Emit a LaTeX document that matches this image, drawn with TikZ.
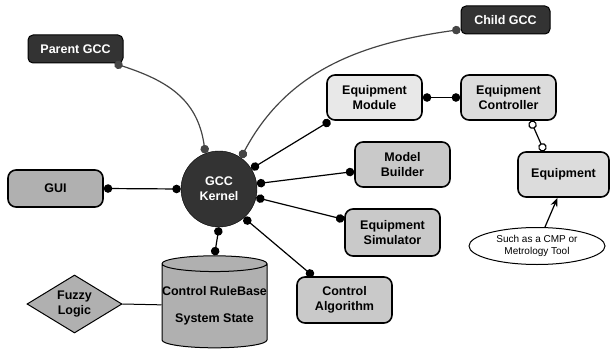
\documentclass[tikz,border=0pt]{standalone}
\usepackage{fontspec}
\setmainfont{Liberation Sans}
\usetikzlibrary{shapes.geometric,arrows.meta}
\definecolor{darkbox}{HTML}{333333}
\definecolor{linkgray}{HTML}{454545}
\definecolor{midgray}{HTML}{B0B0B0}
\definecolor{boxgray}{HTML}{C9C9C9}
\definecolor{lightgray}{HTML}{DCDCDC}
\definecolor{palegray}{HTML}{E8E8E8}
\tikzstyle{every node}=[font=\fontsize{12.5}{15}\selectfont\bfseries, align=center]
\tikzstyle{block}=[draw, line width=1.6pt, rounded corners=8pt, minimum width=95pt, minimum height=45pt, inner sep=2pt]
\tikzstyle{remote}=[draw=black, fill=darkbox, text=white, line width=1pt, rounded corners=5pt, minimum height=28pt, inner sep=2pt]
\tikzstyle{link}=[line width=1.2pt, {Circle[length=8.5pt]}-{Circle[length=8.5pt]}]
\tikzstyle{remotelink}=[link, draw=linkgray]
\tikzstyle{openlink}=[line width=1.2pt, {Circle[open,fill=white,length=8.5pt]}-{Circle[open,fill=white,length=8.5pt]}]

\begin{document}
\begin{tikzpicture}[x=1pt, y=-1pt]
\useasboundingbox (0,0) rectangle (610,353);
% Kernel
    \node[circle, fill=darkbox, draw=black, text=white, minimum size=76pt, inner sep=0] (kernel) at (219,189) {GCC\\Kernel};
% Remote controllers
    \node[remote, minimum width=95pt] (parent) at (75.5,49) {Parent GCC};
    \node[remote, minimum width=89pt] (child) at (505.5,20) {Child GCC};
% Blocks
    \node[block, fill=midgray, minimum height=37pt] (gui) at (55.5,188.5) {GUI};
    \node[block, fill=palegray] (module) at (374.5,97.5) {Equipment\\Module};
    \node[block, fill=lightgray] (ctrl) at (508.5,97.5) {Equipment\\Controller};
    \node[block, fill=boxgray] (builder) at (402.5,164.5) {Model\\Builder};
    \node[block, fill=lightgray, minimum width=91pt] (equip) at (563.5,174.5) {Equipment};
    \node[block, fill=boxgray, minimum height=47pt] (sim) at (392.5,232.5) {Equipment\\Simulator};
    \node[block, fill=boxgray, minimum height=46pt] (algo) at (344.5,300) {Control\\Algorithm};
% Rule base and fuzzy logic
    \node[cylinder, shape border rotate=90, aspect=0.15, draw, line width=1pt, fill=midgray, minimum height=92pt, minimum width=105pt, inner sep=0] (db) at (214.5,306) {Control RuleBase\\[12pt]System State};
    \node[diamond, aspect=1.64, draw, line width=1pt, fill=midgray, minimum width=95pt, minimum height=58pt, inner sep=0] (fuzzy) at (74.5,304) {Fuzzy\\Logic};
% Note
    \node[ellipse, draw, line width=1pt, fill=white, minimum width=136pt, minimum height=37pt, inner sep=0, font=\fontsize{10}{12.5}\selectfont] (note) at (537,246) {Such as a CMP or\\Metrology Tool};
% Links
    \draw[remotelink] ([xshift=-9pt]parent.south east) to[out=-18, in=98, looseness=1.1] (kernel.111);
    \draw[remotelink] (kernel.55) to[out=62, in=188] ([yshift=5pt]child.south west);
    \draw[link] (gui.east) -- (kernel.west);
    \draw[link] (kernel.32) -- ([xshift=4pt]module.south west);
    \draw[link] (kernel.8) -- ([yshift=-7pt]builder.west);
    \draw[link] (kernel.-13) -- ([yshift=13pt]sim.west);
    \draw[link] (kernel.-49) -- ([xshift=17pt]algo.north west);
    \draw[link] (kernel.south) -- (db.north);
    \draw[link] (module.east) -- (ctrl.west);
    \draw[openlink] ([xshift=-26pt]ctrl.south east) -- ([xshift=27pt]equip.north west);
    \draw[line width=1pt] (fuzzy.east) -- (db);
    \draw[line width=1.2pt, -{Stealth[length=9pt, width=7pt]}] ([xshift=8pt]note.north) -- ([xshift=-6pt]equip.south);
\end{tikzpicture}
\end{document}
